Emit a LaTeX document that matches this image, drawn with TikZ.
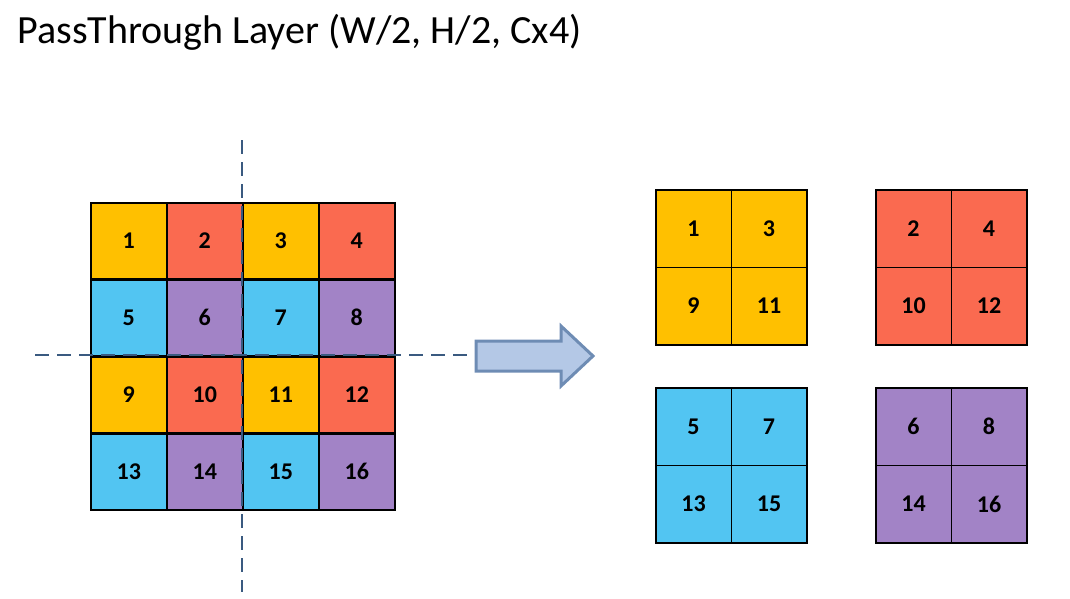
\documentclass[tikz,border=0pt]{standalone}
\usepackage{fontspec}
\setmainfont{Carlito}
\definecolor{cO}{HTML}{FFC000}
\definecolor{cR}{HTML}{FA6A50}
\definecolor{cB}{HTML}{52C5F2}
\definecolor{cP}{HTML}{A283C6}
\definecolor{dash}{HTML}{3A5A80}
\definecolor{arF}{HTML}{B4C8E6}
\definecolor{arD}{HTML}{6E8CB4}
\begin{document}
\begin{tikzpicture}[x=1pt,y=-1pt,
  cell/.style={draw=black,line width=1.5pt,minimum width=76pt,minimum height=76pt,inner sep=0pt,font=\fontsize{24}{24}\selectfont\bfseries,anchor=north west},
  scell/.style={cell,minimum width=75.5pt,minimum height=77.5pt},
  dl/.style={draw=dash,line width=1.6pt,dash pattern=on 14pt off 8pt}]
\useasboundingbox (0,0) rectangle (1070,598);
\node[anchor=west,font=\fontsize{40}{40}\selectfont] (title) at (14,32) {PassThrough Layer (W/2, H/2, Cx4)};
% left grid
\foreach \n/\c [count=\i from 0] in {1/cO,2/cR,3/cO,4/cR,5/cB,6/cP,7/cB,8/cP,9/cO,10/cR,11/cO,12/cR,13/cB,14/cP,15/cB,16/cP}{
  \pgfmathtruncatemacro\col{mod(\i,4)}
  \pgfmathtruncatemacro\row{div(\i,4)}
  \node[cell,fill=\c] (g\n) at (90+76*\col,202+77*\row) {\n};
}
\coordinate (vt) at (242,140); \coordinate (vb) at (242,592);
\coordinate (hl) at (35,355); \coordinate (hr) at (485,355);
\draw[dl] (vt) -- (vb);
\draw[dl] (hl) -- (hr);
% arrow
\draw[draw=arD,fill=arF,line width=3pt,line join=miter]
 (476,341) -- (561,341) -- (561,326) -- (593,356) -- (561,386) -- (561,371) -- (476,371) -- cycle;
% right blocks
\foreach \bx/\by/\a/\b/\cc/\d/\c in {655/189/1/3/9/11/cO,875/189/2/4/10/12/cR,655/387/5/7/13/15/cB,875/387/6/8/14/16/cP}{
  \node[scell,fill=\c] (r\a) at (\bx,\by) {\a};
  \node[scell,fill=\c] (r\b) at (\bx+75.5,\by) {\b};
  \node[scell,fill=\c] (r\cc) at (\bx,\by+77.5) {\cc};
  \node[scell,fill=\c] (r\d) at (\bx+75.5,\by+77.5) {\d};
}
\end{tikzpicture}
\end{document}
